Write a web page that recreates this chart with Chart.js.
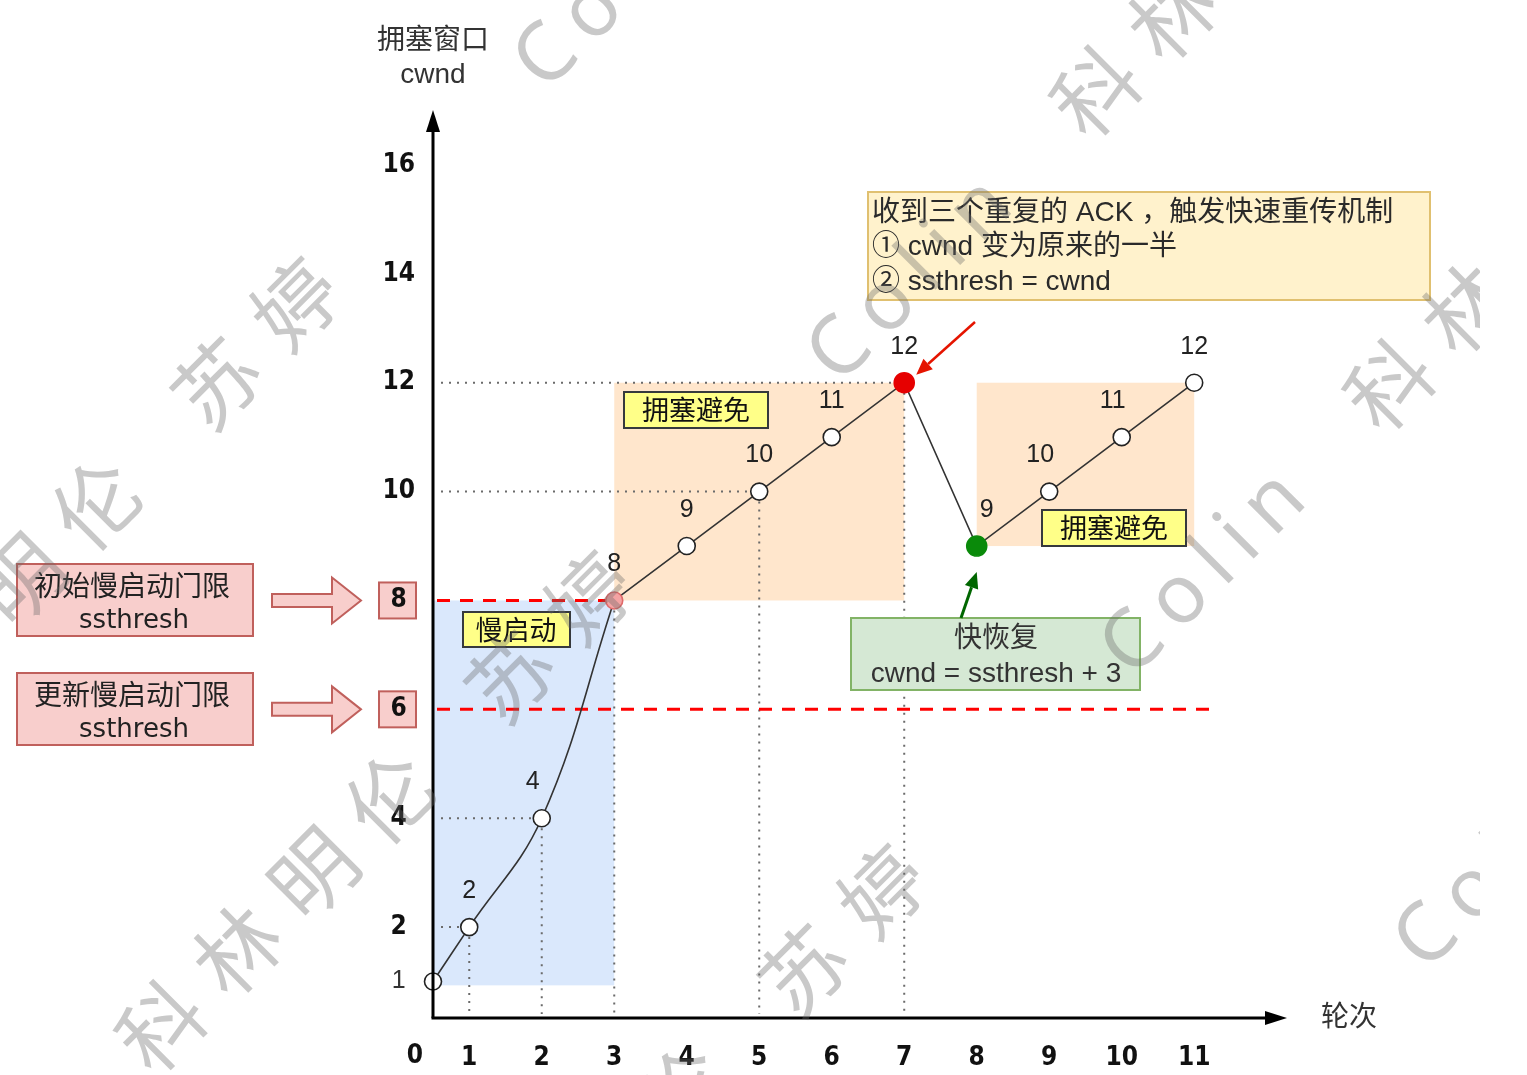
<!DOCTYPE html>
<html>
<head>
<meta charset="utf-8">
<script src="https://cdn.jsdelivr.net/npm/chart.js@4.4.1/dist/chart.umd.min.js"></script>
<style>
  html, body { margin: 0; padding: 0; background: #ffffff; }
  #wrap { width: 1527px; height: 1075px; position: relative; }
  canvas { display: block; }
</style>
</head>
<body>
<div id="wrap"><canvas id="chart" width="1527" height="1075"></canvas></div>
<script>
// ---------------- data ----------------
const rounds = [0, 1, 2, 3, 4, 5, 6, 7, 8, 9, 10, 11];
const cwnd = [1, 2, 4, 8, 9, 10, 11, 12, 9, 10, 11, 12];
const xTickValues = [1, 2, 3, 4, 5, 6, 7, 8, 9, 10, 11];
const yTickValues = [1, 2, 4, 6, 8, 10, 12, 14, 16];
const slowStartLastRound = 3;
const lossRound = 7;
const fastRecoveryRound = 8;
const ssthreshInitial = 8;
const ssthreshUpdated = 6;
const ssthreshInitialEnd = 3;     // round where the initial ssthresh line stops
const ssthreshUpdatedEnd = 11.3;  // round where the updated ssthresh line stops
const hGuideRounds = [1, 2, 5, 7];
const vGuideRounds = [1, 2, 3, 5, 7];
// shaded phases: [fromRound, toRound, fromCwnd, toCwnd]
const slowStartBand = [0, 3, 0.93, 8];
const avoidanceBand1 = [3, 7, 8, 12];
const avoidanceBand2 = [8, 11, 9, 12];

const yAxisTitle = ['拥塞窗口', 'cwnd'];
const xAxisTitle = '轮次';
const noteLines = ['收到三个重复的 ACK ，触发快速重传机制', '① cwnd 变为原来的一半', '② ssthresh = cwnd'];
const recoveryLines = ['快恢复', 'cwnd = ssthresh + 3'];
const slowStartLabel = '慢启动';
const avoidanceLabel = '拥塞避免';
const initThreshLines = ['初始慢启动门限', 'ssthresh'];
const newThreshLines = ['更新慢启动门限', 'ssthresh'];
const watermarkWords = ['科林明伦', '苏婷', 'Colin'];

// ---------------- fonts / styles ----------------
const F_TICK = '"DejaVu Sans Condensed", "DejaVu Sans", sans-serif';
const F_TEXT = '"Liberation Sans", "Noto Sans CJK SC", sans-serif';
const F_CJK = '"Noto Sans CJK SC", sans-serif';

// x scale that places round 0 on the vertical axis (half step), like the diagram
class RoundScale extends Chart.LinearScale {
  getPixelForValue(value) {
    const v = value < 1 ? 0.5 + value / 2 : value;
    return super.getPixelForValue(v);
  }
  getValueForPixel(pixel) {
    const v = super.getValueForPixel(pixel);
    return v < 1 ? (v - 0.5) * 2 : v;
  }
}
RoundScale.id = 'round';
RoundScale.defaults = Chart.LinearScale.defaults;
Chart.register(RoundScale);

function pointColor(r) {
  if (r === lossRound) return '#e60000';
  if (r === fastRecoveryRound) return '#0a8a0a';
  if (r === slowStartLastRound) return '#f4a3a3';
  return '#ffffff';
}
function pointBorder(r) {
  if (r === lossRound) return '#e60000';
  if (r === fastRecoveryRound) return '#0a8a0a';
  if (r === slowStartLastRound) return '#e06a6a';
  return '#222222';
}

const slowPts = [];
const restPts = [];
rounds.forEach((r, i) => {
  if (r <= slowStartLastRound) slowPts.push({ x: r, y: cwnd[i] });
  if (r >= slowStartLastRound) restPts.push({ x: r, y: cwnd[i] });
});

// ---------------- helpers ----------------
function box(ctx, x, y, w, h, fill, stroke, lw) {
  ctx.save();
  ctx.fillStyle = fill;
  ctx.fillRect(x, y, w, h);
  if (stroke) {
    ctx.strokeStyle = stroke;
    ctx.lineWidth = lw || 1.5;
    ctx.strokeRect(x, y, w, h);
  }
  ctx.restore();
}
function text(ctx, s, x, y, font, color, align) {
  ctx.save();
  ctx.font = font;
  ctx.fillStyle = color;
  ctx.textAlign = align || 'center';
  ctx.textBaseline = 'middle';
  ctx.fillText(s, x, y);
  ctx.restore();
}
function arrowLine(ctx, x0, y0, x1, y1, color, lw, headLen, headW) {
  const a = Math.atan2(y1 - y0, x1 - x0);
  const bx = x1 - headLen * Math.cos(a), by = y1 - headLen * Math.sin(a);
  ctx.save();
  ctx.strokeStyle = color; ctx.fillStyle = color; ctx.lineWidth = lw;
  ctx.beginPath(); ctx.moveTo(x0, y0); ctx.lineTo(bx, by); ctx.stroke();
  ctx.beginPath();
  ctx.moveTo(x1, y1);
  ctx.lineTo(bx + headW * Math.sin(a), by - headW * Math.cos(a));
  ctx.lineTo(bx - headW * Math.sin(a), by + headW * Math.cos(a));
  ctx.closePath(); ctx.fill();
  ctx.restore();
}
function blockArrow(ctx, x0, x1, cy) {
  const shaft = 6.5, head = 23, hx = x1 - 29;
  ctx.save();
  ctx.fillStyle = '#f8cecc'; ctx.strokeStyle = '#c0605c'; ctx.lineWidth = 2;
  ctx.beginPath();
  ctx.moveTo(x0, cy - shaft); ctx.lineTo(hx, cy - shaft); ctx.lineTo(hx, cy - head);
  ctx.lineTo(x1, cy); ctx.lineTo(hx, cy + head); ctx.lineTo(hx, cy + shaft);
  ctx.lineTo(x0, cy + shaft); ctx.closePath();
  ctx.fill(); ctx.stroke();
  ctx.restore();
}

// ---------------- plugin ----------------
const diagramPlugin = {
  id: 'diagram',
  beforeDraw(chart) {
    const ctx = chart.ctx;
    ctx.save();
    ctx.fillStyle = '#ffffff';
    ctx.fillRect(0, 0, chart.width, chart.height);
    ctx.restore();
    const ys = chart.scales.y;
    [ssthreshInitial, ssthreshUpdated].forEach(v => {
      const py = ys.getPixelForValue(v);
      box(ctx, 379, py - 18, 37, 36, '#f8cecc', '#c0605c', 2);
    });
  },
  beforeDatasetsDraw(chart) {
    const ctx = chart.ctx;
    const xs = chart.scales.x, ys = chart.scales.y;
    const X = v => xs.getPixelForValue(v), Y = v => ys.getPixelForValue(v);
    const band = (b, color) => {
      const x0 = X(b[0]), x1 = X(b[1]), y0 = Y(b[3]), y1 = Y(b[2]);
      box(ctx, x0, y0, x1 - x0, y1 - y0, color);
    };
    band(slowStartBand, '#dae8fc');
    band(avoidanceBand1, '#ffe6cc');
    band(avoidanceBand2, '#ffe6cc');

    // dotted guides
    const left = chart.chartArea.left, bottom = chart.chartArea.bottom;
    ctx.save();
    ctx.strokeStyle = '#6b6b6b';
    ctx.lineWidth = 2;
    ctx.setLineDash([2, 6]);
    hGuideRounds.forEach(r => {
      const i = rounds.indexOf(r);
      ctx.beginPath(); ctx.moveTo(left + 8, Y(cwnd[i])); ctx.lineTo(X(r) - 10, Y(cwnd[i])); ctx.stroke();
    });
    vGuideRounds.forEach(r => {
      const i = rounds.indexOf(r);
      ctx.beginPath(); ctx.moveTo(X(r), Y(cwnd[i]) + 10); ctx.lineTo(X(r), bottom - 4); ctx.stroke();
    });
    ctx.restore();

    // ssthresh dashed lines
    ctx.save();
    ctx.strokeStyle = '#ff0000';
    ctx.lineWidth = 3;
    ctx.setLineDash([13, 10]);
    ctx.beginPath(); ctx.moveTo(left + 4, Y(ssthreshInitial)); ctx.lineTo(X(ssthreshInitialEnd) - 6, Y(ssthreshInitial)); ctx.stroke();
    ctx.beginPath(); ctx.moveTo(left + 4, Y(ssthreshUpdated)); ctx.lineTo(X(ssthreshUpdatedEnd), Y(ssthreshUpdated)); ctx.stroke();
    ctx.restore();

    // phase labels
    box(ctx, 463, 612, 107, 35, '#ffff88', '#36393d', 2);
    text(ctx, slowStartLabel, 516, 630, '27px ' + F_CJK, '#111');
    box(ctx, 624, 392, 144, 36, '#ffff88', '#36393d', 2);
    text(ctx, avoidanceLabel, 696, 410, '27px ' + F_CJK, '#111');
    box(ctx, 1042, 510, 144, 36, '#ffff88', '#36393d', 2);
    text(ctx, avoidanceLabel, 1114, 528, '27px ' + F_CJK, '#111');

    // fast recovery note
    box(ctx, 851, 618, 289, 72, '#d5e8d4', '#82b366', 2);
    text(ctx, recoveryLines[0], 996, 639, '28px ' + F_TEXT, '#333');
    text(ctx, recoveryLines[1], 996, 674, '28px ' + F_TEXT, '#333');

    // fast retransmit note
    box(ctx, 868, 192, 562, 108, '#fff2cc', '#e0c070', 2);
    noteLines.forEach((s, k) => text(ctx, s, 872, 213 + k * 34.5, '28px ' + F_TEXT, '#2a2a2a', 'left'));
  },
  afterDatasetsDraw(chart) {
    const ctx = chart.ctx;
    const xs = chart.scales.x, ys = chart.scales.y;
    const X = v => xs.getPixelForValue(v), Y = v => ys.getPixelForValue(v);
    const ca = chart.chartArea;

    // point value labels
    const dx = { 2: -9, 8: 10, 9: -9, 10: -9 };
    rounds.forEach((r, i) => {
      if (r === 0) return;
      text(ctx, String(cwnd[i]), X(r) + (dx[r] || 0), Y(cwnd[i]) - 36, '25px ' + F_TEXT, '#222');
    });

    // axes with arrows
    ctx.save();
    ctx.strokeStyle = '#000'; ctx.fillStyle = '#000'; ctx.lineWidth = 3;
    ctx.beginPath(); ctx.moveTo(ca.left, ca.bottom); ctx.lineTo(ca.left, ca.top + 18); ctx.stroke();
    ctx.beginPath(); ctx.moveTo(ca.left, ca.top); ctx.lineTo(ca.left - 7, ca.top + 22); ctx.lineTo(ca.left + 7, ca.top + 22); ctx.closePath(); ctx.fill();
    ctx.beginPath(); ctx.moveTo(ca.left - 1.5, ca.bottom); ctx.lineTo(ca.right - 18, ca.bottom); ctx.stroke();
    ctx.beginPath(); ctx.moveTo(ca.right, ca.bottom); ctx.lineTo(ca.right - 22, ca.bottom - 7); ctx.lineTo(ca.right - 22, ca.bottom + 7); ctx.closePath(); ctx.fill();
    ctx.restore();

    // axis titles
    text(ctx, yAxisTitle[0], ca.left, 41, '28px ' + F_TEXT, '#333');
    text(ctx, yAxisTitle[1], ca.left, 75, '28px ' + F_TEXT, '#333');
    text(ctx, xAxisTitle, 1349, 1018, '28px ' + F_TEXT, '#333');
    text(ctx, '0', 415, 1056, 'bold 26px ' + F_TICK, '#111');

    // ssthresh call-outs
    box(ctx, 17, 564, 236, 72, '#f8cecc', '#c0605c', 2);
    text(ctx, initThreshLines[0], 132, 585, '28px ' + F_CJK, '#222');
    text(ctx, initThreshLines[1], 134, 621, '26px "DejaVu Sans", sans-serif', '#222');
    box(ctx, 17, 673, 236, 72, '#f8cecc', '#c0605c', 2);
    text(ctx, newThreshLines[0], 132, 694, '28px ' + F_CJK, '#222');
    text(ctx, newThreshLines[1], 134, 730, '26px "DejaVu Sans", sans-serif', '#222');
    blockArrow(ctx, 272, 361, Y(ssthreshInitial));
    blockArrow(ctx, 272, 361, Y(ssthreshUpdated));

    // pointer arrows
    arrowLine(ctx, 975, 322, X(lossRound) + 12, Y(cwnd[rounds.indexOf(lossRound)]) - 8, '#e51400', 2.5, 16, 7);
    arrowLine(ctx, 961, 618, X(fastRecoveryRound), Y(cwnd[rounds.indexOf(fastRecoveryRound)]) + 26, '#006600', 3, 16, 7);
  },
  afterDraw(chart) {
    const ctx = chart.ctx;
    ctx.save();
    ctx.beginPath(); ctx.rect(0, 0, 1480, chart.height); ctx.clip();
    ctx.fillStyle = 'rgba(105,105,105,0.36)';
    ctx.textBaseline = 'middle';
    ctx.textAlign = 'center';
    ctx.rotate(-Math.PI / 4);
    const period = 1322;
    const lines = [424, 839, 1254, 1669];
    lines.forEach(v => {
      for (let n = -1; n <= 1; n++) {
        const base = n * period;
        ctx.font = '84px ' + F_CJK;
        // 科林明伦
        [...watermarkWords[0]].forEach((ch, k) => ctx.fillText(ch, base - 612 + k * 108, v));
        // 苏婷
        [...watermarkWords[1]].forEach((ch, k) => ctx.fillText(ch, base - 118 + k * 112, v));
        // Colin
        ctx.font = '82px "Noto Sans", sans-serif';
        let u = base + 320;
        ctx.textAlign = 'left';
        [...watermarkWords[2]].forEach(ch => {
          ctx.fillText(ch, u, v + 4);
          u += ctx.measureText(ch).width + 14;
        });
        ctx.textAlign = 'center';
      }
    });
    ctx.restore();
  }
};

// ---------------- chart ----------------
new Chart(document.getElementById('chart'), {
  type: 'scatter',
  data: {
    datasets: [
      {
        label: 'slow start',
        data: slowPts,
        showLine: true,
        tension: 0.4,
        borderColor: '#333333',
        borderWidth: 1.6,
        clip: false,
        pointRadius: c => (c.raw && (c.raw.x === lossRound || c.raw.x === fastRecoveryRound)) ? 10 : 8.5,
        pointBackgroundColor: c => pointColor(c.raw ? c.raw.x : 0),
        pointBorderColor: c => pointBorder(c.raw ? c.raw.x : 0),
        pointBorderWidth: 1.6
      },
      {
        label: 'congestion avoidance',
        data: restPts,
        showLine: true,
        tension: 0,
        borderColor: '#333333',
        borderWidth: 1.6,
        clip: false,
        pointRadius: c => {
          const r = c.raw ? c.raw.x : -1;
          if (r === slowStartLastRound) return 0;
          if (r === lossRound || r === fastRecoveryRound) return 10;
          return 8.5;
        },
        pointBackgroundColor: c => pointColor(c.raw ? c.raw.x : 0),
        pointBorderColor: c => pointBorder(c.raw ? c.raw.x : 0),
        pointBorderWidth: 1.6
      }
    ]
  },
  options: {
    responsive: false,
    animation: false,
    devicePixelRatio: 1,
    layout: { padding: { left: 0, right: 240, top: 110, bottom: 0 } },
    plugins: { legend: { display: false }, tooltip: { enabled: false } },
    scales: {
      x: {
        type: 'round',
        min: 0.5,
        max: 12.28,
        grid: { display: false, drawTicks: false },
        border: { display: false },
        afterBuildTicks: s => { s.ticks = xTickValues.map(v => ({ value: v })); },
        afterFit: s => { s.height = 57; },
        ticks: {
          autoSkip: false,
          maxRotation: 0,
          padding: 25,
          color: '#111',
          font: { family: F_TICK, size: 26, weight: 'bold' },
          callback: v => String(v)
        }
      },
      y: {
        type: 'linear',
        min: 0.33,
        max: 17.01,
        grid: { display: false, drawTicks: false },
        border: { display: false },
        afterBuildTicks: s => { s.ticks = yTickValues.map(v => ({ value: v })); },
        afterFit: s => { s.width = 433; },
        ticks: {
          autoSkip: false,
          crossAlign: 'center',
          padding: 18,
          color: c => (c.tick && c.tick.value === 1) ? '#333' : '#111',
          font: c => (c.tick && c.tick.value === 1)
            ? { family: F_TEXT, size: 25, weight: 'normal' }
            : { family: F_TICK, size: 26, weight: 'bold' },
          callback: v => String(v)
        }
      }
    }
  },
  plugins: [diagramPlugin]
});
</script>
</body>
</html>
